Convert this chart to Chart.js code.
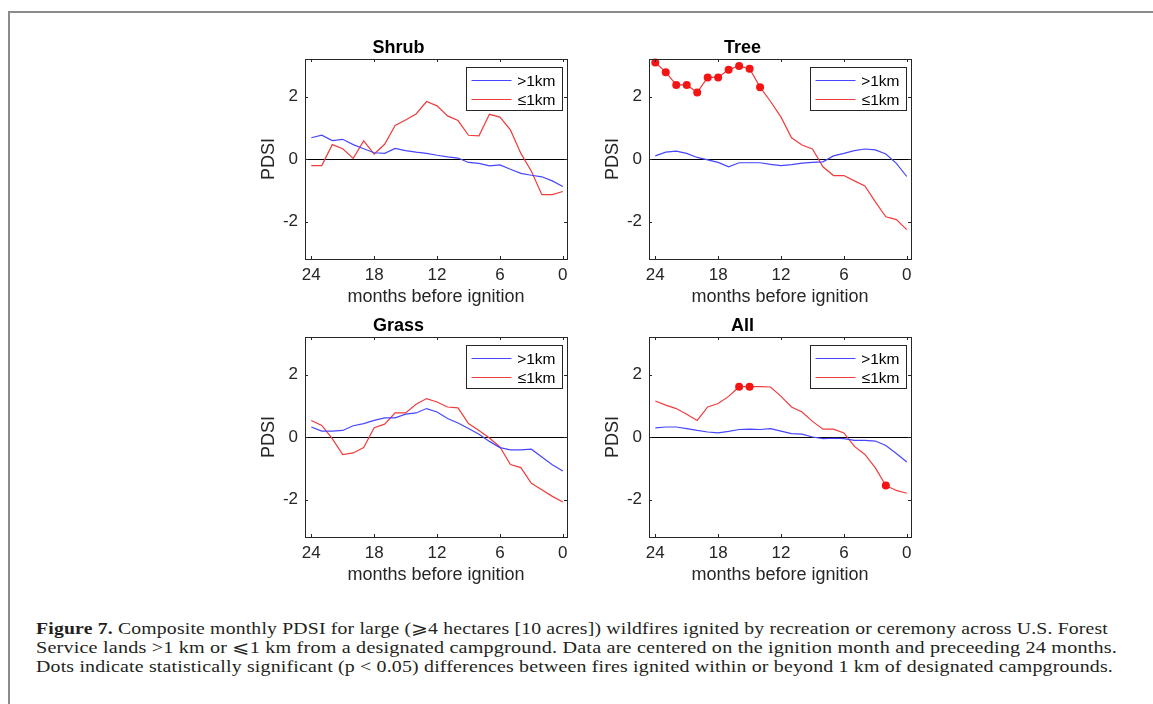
<!DOCTYPE html>
<html>
<head>
<meta charset="utf-8">
<script src="https://cdn.jsdelivr.net/npm/chart.js@4.4.0/dist/chart.umd.min.js"></script>
<style>
body{margin:0;background:#fff;width:1153px;height:704px;overflow:hidden;position:relative;font-family:"Liberation Sans",Arial,sans-serif;}
.frame{position:absolute;left:8px;top:11px;right:-10px;bottom:-10px;border-left:2px solid #8c8c8c;border-top:2px solid #8c8c8c;}
.panel{position:absolute;width:370px;height:280px;}
.caption{position:absolute;left:36px;top:619px;font-family:"Liberation Serif","Times New Roman",serif;font-size:16.5px;line-height:19px;color:#231f20;}
.caption div{white-space:nowrap;width:max-content;transform-origin:0 50%;letter-spacing:0.15px;}
</style>
</head>
<body>
<div class="frame"></div>
<div class="panel" style="left:230px;top:30px"><canvas id="shrub"></canvas></div>
<div class="panel" style="left:574px;top:30px"><canvas id="tree"></canvas></div>
<div class="panel" style="left:230px;top:308px"><canvas id="grass"></canvas></div>
<div class="panel" style="left:574px;top:308px"><canvas id="all"></canvas></div>
<div class="caption">
  <div data-w="1072"><b>Figure 7.</b> Composite monthly PDSI for large (⩾4 hectares [10 acres]) wildfires ignited by recreation or ceremony across U.S. Forest</div>
  <div data-w="1081">Service lands &gt;1 km or ⩽1 km from a designated campground. Data are centered on the ignition month and preceeding 24 months.</div>
  <div data-w="1077">Dots indicate statistically significant (p &lt; 0.05) differences between fires ignited within or beyond 1 km of designated campgrounds.</div>
</div>
<script>
// months before ignition, 24 -> 0
const months = [24,23,22,21,20,19,18,17,16,15,14,13,12,11,10,9,8,7,6,5,4,3,2,1,0];
const xTicks = [24,18,12,6,0];
const yTicks = [-2,0,2];
const seriesLabels = ['>1km','≤1km'];

const shrubFar  = [0.68,0.76,0.59,0.63,0.46,0.33,0.20,0.18,0.34,0.27,0.22,0.18,0.12,0.07,0.03,-0.11,-0.14,-0.22,-0.19,-0.33,-0.46,-0.52,-0.57,-0.70,-0.88];
const shrubNear = [-0.21,-0.21,0.46,0.33,0.02,0.58,0.16,0.47,1.07,1.25,1.44,1.84,1.70,1.38,1.23,0.76,0.74,1.43,1.34,0.93,0.18,-0.39,-1.14,-1.14,-1.04];
const treeFar   = [0.10,0.22,0.25,0.18,0.05,-0.03,-0.11,-0.25,-0.12,-0.12,-0.12,-0.17,-0.21,-0.18,-0.13,-0.11,-0.09,0.10,0.18,0.27,0.32,0.29,0.16,-0.14,-0.56];
const treeNear  = [3.09,2.78,2.37,2.37,2.13,2.61,2.61,2.86,2.98,2.89,2.30,1.84,1.34,0.68,0.45,0.32,-0.25,-0.53,-0.53,-0.70,-0.86,-1.37,-1.85,-1.94,-2.26];
const grassFar  = [0.32,0.19,0.19,0.21,0.36,0.43,0.53,0.61,0.61,0.73,0.77,0.91,0.80,0.59,0.45,0.27,0.09,-0.14,-0.34,-0.41,-0.41,-0.39,-0.64,-0.89,-1.09];
const grassNear = [0.53,0.37,-0.05,-0.56,-0.51,-0.34,0.30,0.41,0.77,0.77,1.05,1.23,1.12,0.96,0.93,0.43,0.21,-0.03,-0.32,-0.88,-0.98,-1.48,-1.69,-1.90,-2.08];
const allFar    = [0.29,0.32,0.32,0.27,0.21,0.16,0.13,0.18,0.24,0.25,0.24,0.27,0.19,0.11,0.09,0.00,-0.05,-0.04,-0.05,-0.11,-0.11,-0.13,-0.27,-0.53,-0.80];
const allNear   = [1.15,1.02,0.91,0.73,0.53,0.96,1.07,1.30,1.61,1.61,1.61,1.60,1.30,0.96,0.80,0.50,0.25,0.25,0.13,-0.30,-0.56,-0.99,-1.55,-1.71,-1.80];

// months with significant differences (dots)
const sigShrub = [];
const sigTree  = [24,23,22,21,20,19,18,17,16,15,14];
const sigGrass = [];
const sigAll   = [16,15,2];

const blue = 'rgb(70,70,255)';
const red = 'rgb(240,60,60)';
const dotRed = 'rgb(245,20,20)';
const axisColor = '#262626';
const sans = '"Liberation Sans", Arial, sans-serif';

//#####################
// MATLAB style box, zero line, inner ticks and legend
//#####################
const matlabAxes = {
    id: 'matlabAxes',
    beforeDatasetsDraw: (chart) => {
        const {ctx, chartArea: a, scales: {y}} = chart;
        const y0 = Math.round(y.getPixelForValue(0)) + 0.5;
        ctx.save();
        ctx.strokeStyle = '#000';
        ctx.lineWidth = 1.2;
        ctx.beginPath();
        ctx.moveTo(a.left, y0);
        ctx.lineTo(a.right, y0);
        ctx.stroke();
        ctx.restore();
    },
    afterDatasetsDraw: (chart) => {
        const {ctx, chartArea: a, scales: {x, y}} = chart;
        ctx.save();
        ctx.strokeStyle = axisColor;
        ctx.lineWidth = 1;
        ctx.strokeRect(Math.round(a.left) + 0.5, Math.round(a.top) + 0.5, Math.round(a.right - a.left), Math.round(a.bottom - a.top));
        ctx.beginPath();
        xTicks.forEach(v => {
            const px = Math.round(x.getPixelForValue(v)) + 0.5;
            ctx.moveTo(px, a.bottom); ctx.lineTo(px, a.bottom - 3);
            ctx.moveTo(px, a.top); ctx.lineTo(px, a.top + 3);
        });
        yTicks.forEach(v => {
            const py = Math.round(y.getPixelForValue(v)) + 0.5;
            ctx.moveTo(a.left, py); ctx.lineTo(a.left + 3, py);
            ctx.moveTo(a.right, py); ctx.lineTo(a.right - 3, py);
        });
        ctx.stroke();

        // legend box
        const bw = 96, bh = 43;
        const bl = Math.round(a.right - 101) + 0.5;
        const bt = Math.round(a.top + 8) + 0.5;
        ctx.fillStyle = '#fff';
        ctx.fillRect(bl, bt, bw, bh);
        ctx.strokeStyle = axisColor;
        ctx.strokeRect(bl, bt, bw, bh);
        ctx.font = '15.5px ' + sans;
        ctx.textAlign = 'right';
        ctx.textBaseline = 'middle';
        chart.data.datasets.forEach((ds, i) => {
            const ry = bt + 13 + i * 19;
            ctx.strokeStyle = ds.borderColor;
            ctx.lineWidth = 1.2;
            ctx.beginPath();
            ctx.moveTo(bl + 5, ry);
            ctx.lineTo(bl + 45, ry);
            ctx.stroke();
            ctx.fillStyle = '#000';
            ctx.fillText(ds.label, bl + 89, ry + 1);
        });
        ctx.restore();
    }
};

//#####################
// One panel
//#####################
const makePanel = (id, title, far, near, sig) => {
    new Chart(document.getElementById(id), {
        type: 'line',
        data: {
            datasets: [
                {
                    label: seriesLabels[0],
                    data: months.map((m, i) => ({x: m, y: far[i]})),
                    borderColor: blue,
                    borderWidth: 1.2,
                    pointRadius: 0,
                    tension: 0
                },
                {
                    label: seriesLabels[1],
                    data: months.map((m, i) => ({x: m, y: near[i]})),
                    borderColor: red,
                    borderWidth: 1.2,
                    pointRadius: months.map(m => sig.includes(m) ? 4 : 0),
                    pointBackgroundColor: dotRed,
                    pointBorderWidth: 0,
                    tension: 0,
                    clip: false
                }
            ]
        },
        options: {
            responsive: true,
            maintainAspectRatio: false,
            animation: false,
            events: [],
            layout: {padding: {left: 0, right: 33, top: 0, bottom: 0}},
            plugins: {
                legend: {display: false},
                tooltip: {enabled: false},
                title: {
                    display: true,
                    text: title,
                    color: '#000',
                    font: {family: sans, size: 18, weight: 'bold'},
                    padding: {top: 7, bottom: 0.4}
                }
            },
            scales: {
                x: {
                    type: 'linear',
                    reverse: true,
                    min: -0.4,
                    max: 24.6,
                    afterBuildTicks: s => { s.ticks = xTicks.map(v => ({value: v})); },
                    afterFit: s => { s.height = 51; s.paddingLeft = 0; s.paddingRight = 0; },
                    grid: {display: false, drawTicks: false},
                    border: {display: false},
                    ticks: {padding: 6, color: axisColor, font: {family: sans, size: 17}, maxRotation: 0, autoSkip: false},
                    title: {display: true, text: 'months before ignition', color: axisColor, font: {family: sans, size: 18}, padding: {top: 0, bottom: 2}}
                },
                y: {
                    type: 'linear',
                    min: -3.2,
                    max: 3.2,
                    afterBuildTicks: s => { s.ticks = yTicks.map(v => ({value: v})); },
                    afterFit: s => { s.width = 75; s.paddingTop = 0; s.paddingBottom = 0; },
                    grid: {display: false, drawTicks: false},
                    border: {display: false},
                    ticks: {padding: 7, color: axisColor, font: {family: sans, size: 17}},
                    title: {display: true, text: 'PDSI', color: axisColor, font: {family: sans, size: 18}, padding: {top: 28, bottom: 0}}
                }
            }
        },
        plugins: [matlabAxes]
    });
};

makePanel('shrub', 'Shrub', shrubFar, shrubNear, sigShrub);
makePanel('tree', 'Tree', treeFar, treeNear, sigTree);
makePanel('grass', 'Grass', grassFar, grassNear, sigGrass);
makePanel('all', 'All', allFar, allNear, sigAll);

// stretch caption lines to the width they take in the figure
document.querySelectorAll('.caption div').forEach(line => {
    const target = +line.dataset.w;
    const w = line.getBoundingClientRect().width;
    line.style.transform = 'scaleX(' + (target / w).toFixed(4) + ')';
});
</script>
</body>
</html>
